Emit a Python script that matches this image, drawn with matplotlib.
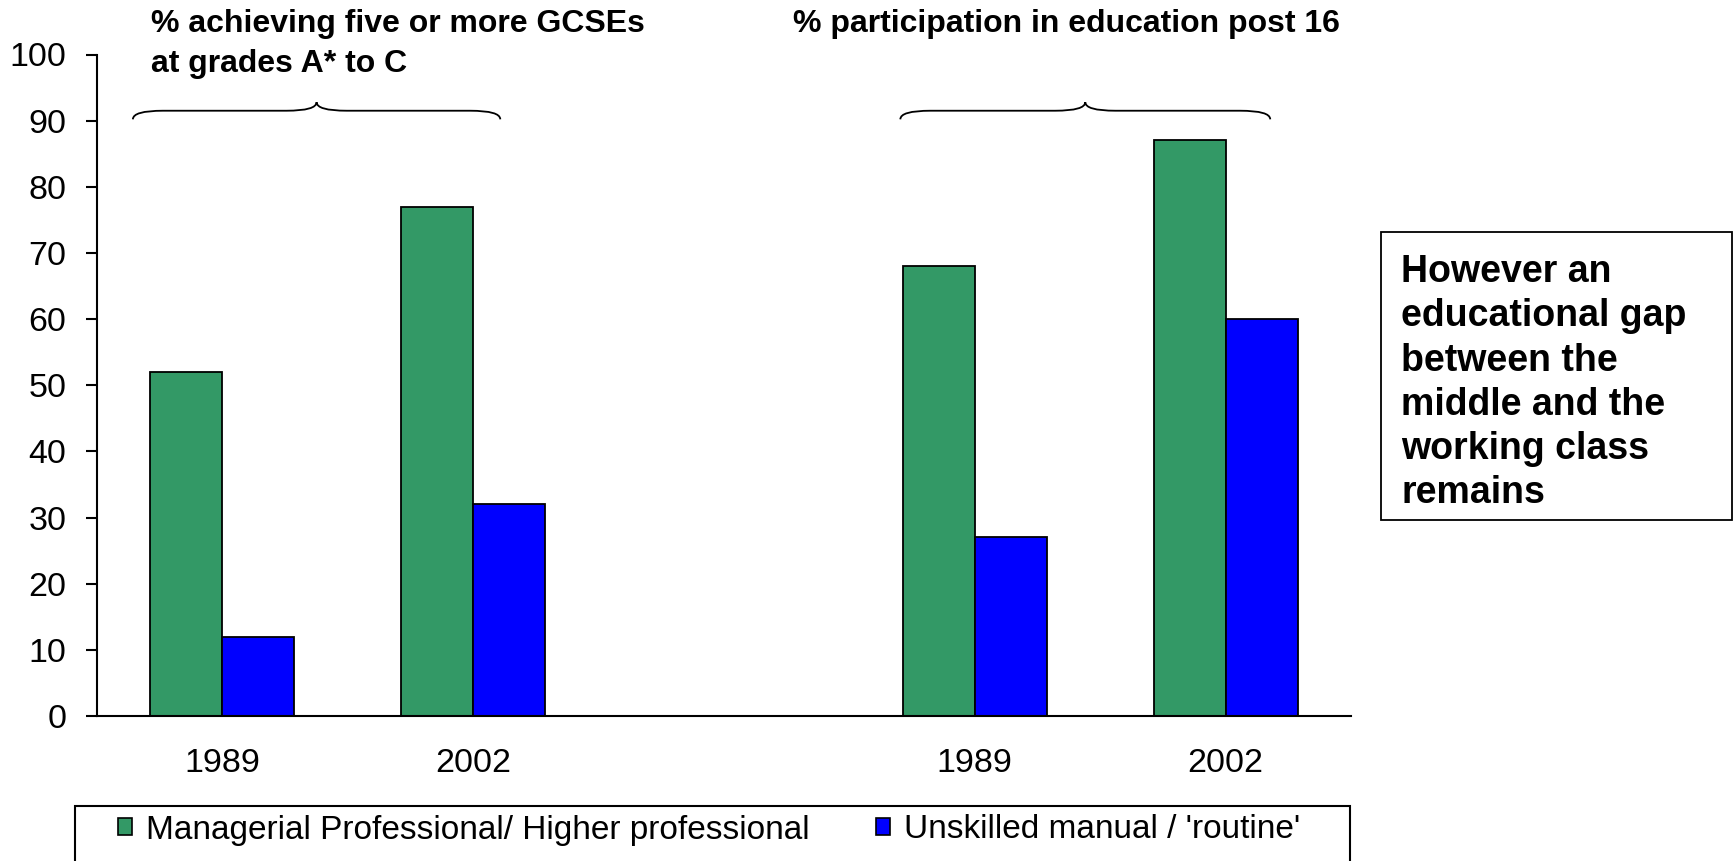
import matplotlib
matplotlib.use("Agg")
import matplotlib.pyplot as plt
from matplotlib.patches import Rectangle, Patch, PathPatch
from matplotlib.path import Path

plt.rcParams['font.family'] = ['Liberation Sans', 'DejaVu Sans']

# data
years = ['1989', '2002', '1989', '2002']
slots = [0, 1, 3, 4]          # slot 2 is the empty gap between the two panels
managerial = [52, 77, 68, 87]
unskilled = [12, 32, 27, 60]
series_names = ["Managerial Professional/ Higher professional",
                "Unskilled manual / 'routine'"]
panel_titles = ["% achieving five or more GCSEs\nat grades A* to C",
                "% participation in education post 16"]
note = "However an\neducational gap\nbetween the\nmiddle and the\nworking class\nremains"

green = '#339966'
blue = '#0000FF'

W, H = 1735, 861
fig = plt.figure(figsize=(W / 100, H / 100), dpi=100)

def fx(px):
  return px / W

def fy(py):
  return 1 - py / H

ax = fig.add_axes([fx(97), fy(716), fx(1351) - fx(97), fy(54.5) - fy(716)])

bw = 0.287
ax.bar([s - bw / 2 for s in slots], managerial, width=bw, color=green,
       edgecolor='black', linewidth=1.3, label=series_names[0])
ax.bar([s + bw / 2 for s in slots], unskilled, width=bw, color=blue,
       edgecolor='black', linewidth=1.3, label=series_names[1])

ax.set_xlim(-0.5, 4.5)
ax.set_ylim(0, 100)
ax.set_yticks(range(0, 101, 10))
ax.set_xticks(slots)
ax.set_xticklabels(years)
for s in ['top', 'right']:
  ax.spines[s].set_visible(False)
for s in ['left', 'bottom']:
  ax.spines[s].set_linewidth(1.5)
ax.tick_params(axis='y', direction='out', length=8, width=1.5, pad=14,
               labelsize=24.5)
ax.tick_params(axis='x', length=0, pad=23, labelsize=24.5)

# curly braces over each panel
def brace(x0, x1, y_end, y_flat, y_tip, r=0.12):
  xm = (x0 + x1) / 2
  verts = [(x0, y_end), (x0, y_flat), (x0 + r, y_flat),
           (xm - r, y_flat), (xm, y_flat), (xm, y_tip),
           (xm, y_flat), (xm + r, y_flat),
           (x1 - r, y_flat), (x1, y_flat), (x1, y_end)]
  codes = [Path.MOVETO, Path.CURVE3, Path.CURVE3,
           Path.LINETO, Path.CURVE3, Path.CURVE3,
           Path.CURVE3, Path.CURVE3,
           Path.LINETO, Path.CURVE3, Path.CURVE3]
  ax.add_patch(PathPatch(Path(verts, codes), fill=False, lw=1.3,
                         edgecolor='black', clip_on=False))

brace(-0.357, 1.108, 90.2, 91.5, 92.8)
brace(2.703, 4.178, 90.2, 91.5, 92.8)

# panel headings
fig.text(fx(151), fy(9), panel_titles[0], fontsize=23, fontweight='bold',
         ha='left', va='top', linespacing=1.42)
fig.text(fx(793), fy(9), panel_titles[1], fontsize=23, fontweight='bold',
         ha='left', va='top')

# note box
fig.add_artist(Rectangle((fx(1381), fy(520)), fx(1732) - fx(1381),
                         fy(232) - fy(520), transform=fig.transFigure,
                         fill=False, edgecolor='black', lw=1.3))
fig.text(fx(1401), fy(254), note, fontsize=27, fontweight='bold',
         ha='left', va='top', linespacing=1.295)

# legend
fig.add_artist(Rectangle((fx(75), -0.05), fx(1350) - fx(75),
                         fy(806) + 0.05, transform=fig.transFigure,
                         fill=False, edgecolor='black', lw=1.5,
                         clip_on=False))
handles = [Patch(facecolor=green, edgecolor='black', lw=1.2),
           Patch(facecolor=blue, edgecolor='black', lw=1.2)]
fig.legend(handles, series_names, loc='center left',
           bbox_to_anchor=(fx(118), fy(830)), ncol=2, frameon=False,
           fontsize=24, borderpad=0, borderaxespad=0,
           handlelength=0.42, handleheight=0.42, handletextpad=0.42,
           columnspacing=2.0)

fig.savefig('out.png', dpi=100)
